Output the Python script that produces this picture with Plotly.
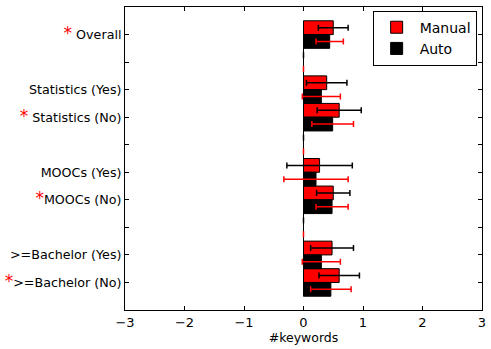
import plotly.graph_objects as go

# ---- data (top to bottom) ----
categories = ["Overall", "", "Statistics (Yes)", "Statistics (No)", "",
              "MOOCs (Yes)", "MOOCs (No)", "", ">=Bachelor (Yes)", ">=Bachelor (No)"]
significant = [True, False, False, True, False, False, True, False, False, True]
manual = [0.50, 0.0, 0.39, 0.60, 0.0, 0.27, 0.50, 0.0, 0.48, 0.60]
manual_err = [0.25, 0.0, 0.34, 0.37, 0.0, 0.55, 0.28, 0.0, 0.36, 0.34]
auto = [0.44, 0.0, 0.30, 0.49, 0.0, 0.21, 0.48, 0.0, 0.30, 0.46]
auto_err = [0.23, 0.0, 0.32, 0.35, 0.0, 0.54, 0.27, 0.0, 0.32, 0.34]
x_ticks = [-3, -2, -1, 0, 1, 2, 3]

n = len(categories)
positions = [n - i for i in range(n)]  # 10 .. 1


def label(cat, sig):
    if not cat:
        return ""
    if not sig:
        return cat
    gap = " " if cat in ("Overall", "Statistics (No)") else ""
    return "<span style='color:red;font-size:17px'>*</span>" + gap + cat


ticktext = [label(c, s) for c, s in zip(categories, significant)]

FONT = "DejaVu Sans"

fig = go.Figure()
fig.add_trace(go.Bar(
    y=positions, x=manual, orientation="h", name="Manual",
    width=0.5, offset=0.0,
    marker=dict(color="#ff0000", line=dict(color="black", width=1)),
    error_x=dict(type="data", array=manual_err, color="black", thickness=1.5, width=3),
))
fig.add_trace(go.Bar(
    y=positions, x=auto, orientation="h", name="Auto",
    width=0.5, offset=-0.5,
    marker=dict(color="#000000", line=dict(color="black", width=1)),
    error_x=dict(type="data", array=auto_err, color="#ff0000", thickness=1.5, width=3),
))

# thin line along x=0 (edges of the zero-width bars)
fig.add_shape(type="line", x0=0, x1=0, y0=min(positions) - 0.5, y1=max(positions) + 0.5,
              xref="x", yref="y", line=dict(color="#555555", width=1), layer="below")

axis_common = dict(
    showline=True, linecolor="black", linewidth=1, mirror="allticks",
    ticks="inside", ticklen=4, tickcolor="black", tickwidth=1,
    showgrid=False, zeroline=False, automargin=False,
)

fig.update_layout(
    width=491, height=349,
    margin=dict(l=125, r=9, t=7, b=39),
    paper_bgcolor="white", plot_bgcolor="white",
    barmode="overlay",
    font=dict(family=FONT, size=12, color="black"),
    xaxis=dict(range=[-3, 3], tickvals=x_ticks,
               tickfont=dict(family=FONT, size=13, color="black"),
               title=dict(text="#keywords", font=dict(family=FONT, size=12.5), standoff=2),
               **axis_common),
    yaxis=dict(range=[0, n + 1], tickvals=positions, ticktext=ticktext,
               tickfont=dict(family=FONT, size=12.7, color="black"),
               **axis_common),
    legend=dict(x=0.985, y=0.988, xanchor="right", yanchor="top",
                bgcolor="white", bordercolor="black", borderwidth=1,
                font=dict(family=FONT, size=14, color="black"),
                traceorder="normal", itemwidth=36),
    showlegend=True,
)

fig.write_html("out.html", config={"displayModeBar": False},
               post_script="document.body.style.margin='0';")
